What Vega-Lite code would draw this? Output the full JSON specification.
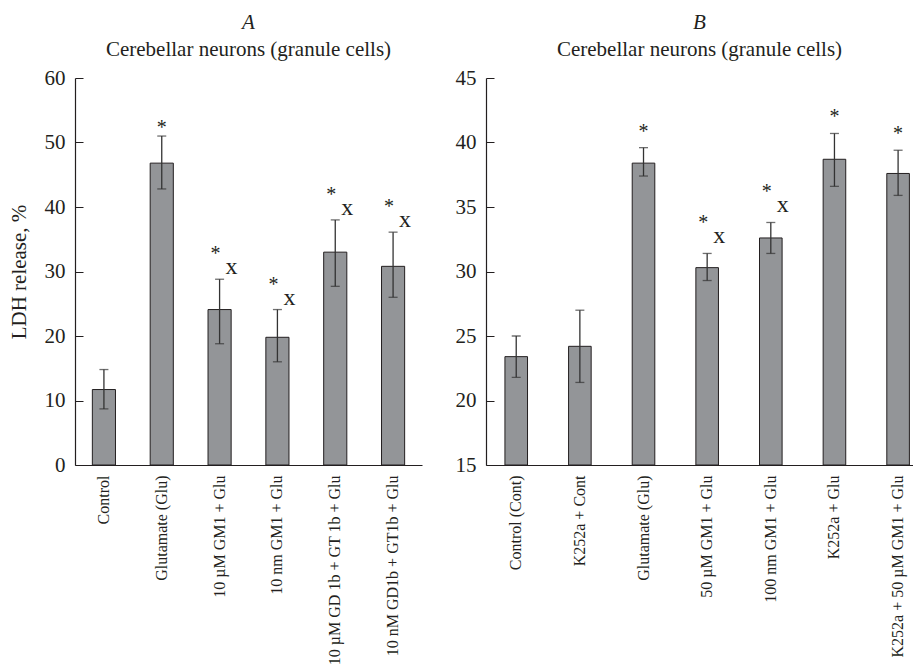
{
  "$schema": "https://vega.github.io/schema/vega-lite/v6.json",
  "background": "white",
  "padding": {"left": 8, "top": 12, "right": 0, "bottom": 0},
  "bounds": "flush",
  "spacing": 64,
  "config": {
    "font": "Liberation Serif",
    "view": {"stroke": null},
    "text": {"font": "Liberation Serif"},
    "axis": {"grid": false, "domainColor": "#231f20", "tickColor": "#231f20", "labelColor": "#231f20", "titleColor": "#231f20", "labelFont": "Liberation Serif", "titleFont": "Liberation Serif", "titleFontWeight": "normal", "domainWidth": 1.2},
    "title": {"font": "Liberation Serif", "fontSize": 21, "fontStyle": "italic", "fontWeight": "normal", "color": "#231f20", "subtitleFont": "Liberation Serif", "subtitleFontSize": 21, "subtitleColor": "#231f20", "subtitlePadding": 6, "offset": 7, "anchor": "middle"}
  },
  "hconcat": [
    {
      "width": 347,
      "height": 387,
      "title": {"text": "A", "subtitle": "Cerebellar neurons (granule cells)"},
      "data": {"values": [
        {"group": "Control", "mean": 11.7, "lo": 8.7, "hi": 14.8, "sig": ""},
        {"group": "Glutamate (Glu)", "mean": 46.8, "lo": 42.8, "hi": 51.0, "sig": "*"},
        {"group": "10 µM GM1 + Glu", "mean": 24.1, "lo": 18.8, "hi": 28.8, "sig": "*x"},
        {"group": "10 nm GM1 + Glu", "mean": 19.8, "lo": 16.0, "hi": 24.1, "sig": "*x"},
        {"group": "10 µM GD 1b + GT 1b + Glu", "mean": 33.0, "lo": 27.7, "hi": 38.0, "sig": "*x"},
        {"group": "10 nM GD1b + GT1b + Glu", "mean": 30.8, "lo": 26.0, "hi": 36.1, "sig": "*x"}
      ]},
      "encoding": {
        "x": {"field": "group", "type": "nominal", "sort": null,
              "scale": {"paddingInner": 0.6, "paddingOuter": 0.3},
              "axis": {"title": null, "labelAngle": -90, "ticks": false, "labelFont": "Liberation Serif", "labelFontSize": 16, "labelPadding": 10, "labelLimit": 300}}
      },
      "layer": [
        {"mark": {"type": "bar", "fill": "#939598", "stroke": "#231f20", "strokeWidth": 1},
         "encoding": {
           "y": {"field": "mean", "type": "quantitative", "scale": {"domain": [0, 60], "nice": false},
                 "axis": {"title": "LDH release, %", "titleFont": "Liberation Serif", "labelFont": "Liberation Serif", "titleFontSize": 21, "titlePadding": 15, "values": [0, 10, 20, 30, 40, 50, 60], "tickSize": -8, "labelFontSize": 21, "labelPadding": 18}},
           "y2": {"datum": 0}}},
        {"mark": {"type": "rule", "color": "#333333", "strokeWidth": 1.3},
         "encoding": {"y": {"field": "lo", "type": "quantitative", "scale": {"domain": [0, 60], "nice": false}, "axis": {"title": "LDH release, %", "titleFont": "Liberation Serif", "labelFont": "Liberation Serif", "titleFontSize": 21, "titlePadding": 15, "values": [0, 10, 20, 30, 40, 50, 60], "tickSize": -8, "labelFontSize": 21, "labelPadding": 18}}, "y2": {"field": "hi"}}},
        {"mark": {"type": "tick", "color": "#333333", "thickness": 1.3, "size": 9},
         "encoding": {"y": {"field": "lo", "type": "quantitative", "scale": {"domain": [0, 60], "nice": false}, "axis": {"title": "LDH release, %", "titleFont": "Liberation Serif", "labelFont": "Liberation Serif", "titleFontSize": 21, "titlePadding": 15, "values": [0, 10, 20, 30, 40, 50, 60], "tickSize": -8, "labelFontSize": 21, "labelPadding": 18}}}},
        {"mark": {"type": "tick", "color": "#333333", "thickness": 1.3, "size": 9},
         "encoding": {"y": {"field": "hi", "type": "quantitative", "scale": {"domain": [0, 60], "nice": false}, "axis": {"title": "LDH release, %", "titleFont": "Liberation Serif", "labelFont": "Liberation Serif", "titleFontSize": 21, "titlePadding": 15, "values": [0, 10, 20, 30, 40, 50, 60], "tickSize": -8, "labelFontSize": 21, "labelPadding": 18}}}},
        {"transform": [{"filter": "datum.sig == '*'"}],
         "mark": {"type": "text", "text": "*", "font": "Liberation Serif", "fontSize": 20, "baseline": "alphabetic", "dy": -2, "color": "#231f20"},
         "encoding": {"y": {"field": "hi", "type": "quantitative", "scale": {"domain": [0, 60], "nice": false}, "axis": {"title": "LDH release, %", "titleFont": "Liberation Serif", "labelFont": "Liberation Serif", "titleFontSize": 21, "titlePadding": 15, "values": [0, 10, 20, 30, 40, 50, 60], "tickSize": -8, "labelFontSize": 21, "labelPadding": 18}}}},
        {"transform": [{"filter": "datum.sig == '*x'"}],
         "mark": {"type": "text", "text": "*", "font": "Liberation Serif", "fontSize": 20, "baseline": "alphabetic", "dy": -19, "dx": -4, "color": "#231f20"},
         "encoding": {"y": {"field": "hi", "type": "quantitative", "scale": {"domain": [0, 60], "nice": false}, "axis": {"title": "LDH release, %", "titleFont": "Liberation Serif", "labelFont": "Liberation Serif", "titleFontSize": 21, "titlePadding": 15, "values": [0, 10, 20, 30, 40, 50, 60], "tickSize": -8, "labelFontSize": 21, "labelPadding": 18}}}},
        {"transform": [{"filter": "datum.sig == '*x'"}],
         "mark": {"type": "text", "text": "x", "font": "Liberation Serif", "fontSize": 24, "baseline": "alphabetic", "dy": -5, "dx": 12, "color": "#231f20"},
         "encoding": {"y": {"field": "hi", "type": "quantitative", "scale": {"domain": [0, 60], "nice": false}, "axis": {"title": "LDH release, %", "titleFont": "Liberation Serif", "labelFont": "Liberation Serif", "titleFontSize": 21, "titlePadding": 15, "values": [0, 10, 20, 30, 40, 50, 60], "tickSize": -8, "labelFontSize": 21, "labelPadding": 18}}}}
      ]
    },
    {
      "width": 427,
      "height": 387,
      "title": {"text": "B", "subtitle": "Cerebellar neurons (granule cells)"},
      "data": {"values": [
        {"group": "Control (Cont)", "mean": 23.4, "lo": 21.8, "hi": 25.0, "sig": ""},
        {"group": "K252a + Cont", "mean": 24.2, "lo": 21.4, "hi": 27.0, "sig": ""},
        {"group": "Glutamate (Glu)", "mean": 38.4, "lo": 37.4, "hi": 39.6, "sig": "*"},
        {"group": "50 µM GM1 + Glu", "mean": 30.3, "lo": 29.3, "hi": 31.4, "sig": "*x"},
        {"group": "100 nm GM1 + Glu", "mean": 32.6, "lo": 31.4, "hi": 33.8, "sig": "*x"},
        {"group": "K252a + Glu", "mean": 38.7, "lo": 36.6, "hi": 40.7, "sig": "*"},
        {"group": "K252a + 50 µM GM1 + Glu", "mean": 37.6, "lo": 35.9, "hi": 39.4, "sig": "*"}
      ]},
      "encoding": {
        "x": {"field": "group", "type": "nominal", "sort": null,
              "scale": {"paddingInner": 0.645, "paddingOuter": 0.177, "align": 0.84},
              "axis": {"title": null, "labelAngle": -90, "ticks": false, "labelFont": "Liberation Serif", "labelFontSize": 16, "labelPadding": 10, "labelLimit": 300}}
      },
      "layer": [
        {"mark": {"type": "bar", "fill": "#939598", "stroke": "#231f20", "strokeWidth": 1},
         "encoding": {
           "y": {"field": "mean", "type": "quantitative", "scale": {"domain": [15, 45], "nice": false, "zero": false},
                 "axis": {"title": null, "labelFont": "Liberation Serif", "values": [15, 20, 25, 30, 35, 40, 45], "tickSize": -8, "labelFontSize": 21, "labelPadding": 18}},
           "y2": {"datum": 15}}},
        {"mark": {"type": "rule", "color": "#333333", "strokeWidth": 1.3},
         "encoding": {"y": {"field": "lo", "type": "quantitative", "scale": {"domain": [15, 45], "nice": false, "zero": false}, "axis": {"title": null, "labelFont": "Liberation Serif", "values": [15, 20, 25, 30, 35, 40, 45], "tickSize": -8, "labelFontSize": 21, "labelPadding": 18}}, "y2": {"field": "hi"}}},
        {"mark": {"type": "tick", "color": "#333333", "thickness": 1.3, "size": 9},
         "encoding": {"y": {"field": "lo", "type": "quantitative", "scale": {"domain": [15, 45], "nice": false, "zero": false}, "axis": {"title": null, "labelFont": "Liberation Serif", "values": [15, 20, 25, 30, 35, 40, 45], "tickSize": -8, "labelFontSize": 21, "labelPadding": 18}}}},
        {"mark": {"type": "tick", "color": "#333333", "thickness": 1.3, "size": 9},
         "encoding": {"y": {"field": "hi", "type": "quantitative", "scale": {"domain": [15, 45], "nice": false, "zero": false}, "axis": {"title": null, "labelFont": "Liberation Serif", "values": [15, 20, 25, 30, 35, 40, 45], "tickSize": -8, "labelFontSize": 21, "labelPadding": 18}}}},
        {"transform": [{"filter": "datum.sig == '*'"}],
         "mark": {"type": "text", "text": "*", "font": "Liberation Serif", "fontSize": 20, "baseline": "alphabetic", "dy": -10, "color": "#231f20"},
         "encoding": {"y": {"field": "hi", "type": "quantitative", "scale": {"domain": [15, 45], "nice": false, "zero": false}, "axis": {"title": null, "labelFont": "Liberation Serif", "values": [15, 20, 25, 30, 35, 40, 45], "tickSize": -8, "labelFontSize": 21, "labelPadding": 18}}}},
        {"transform": [{"filter": "datum.sig == '*x'"}],
         "mark": {"type": "text", "text": "*", "font": "Liberation Serif", "fontSize": 20, "baseline": "alphabetic", "dy": -24, "dx": -4, "color": "#231f20"},
         "encoding": {"y": {"field": "hi", "type": "quantitative", "scale": {"domain": [15, 45], "nice": false, "zero": false}, "axis": {"title": null, "labelFont": "Liberation Serif", "values": [15, 20, 25, 30, 35, 40, 45], "tickSize": -8, "labelFontSize": 21, "labelPadding": 18}}}},
        {"transform": [{"filter": "datum.sig == '*x'"}],
         "mark": {"type": "text", "text": "x", "font": "Liberation Serif", "fontSize": 24, "baseline": "alphabetic", "dy": -10, "dx": 12, "color": "#231f20"},
         "encoding": {"y": {"field": "hi", "type": "quantitative", "scale": {"domain": [15, 45], "nice": false, "zero": false}, "axis": {"title": null, "labelFont": "Liberation Serif", "values": [15, 20, 25, 30, 35, 40, 45], "tickSize": -8, "labelFontSize": 21, "labelPadding": 18}}}}
      ]
    }
  ]
}
